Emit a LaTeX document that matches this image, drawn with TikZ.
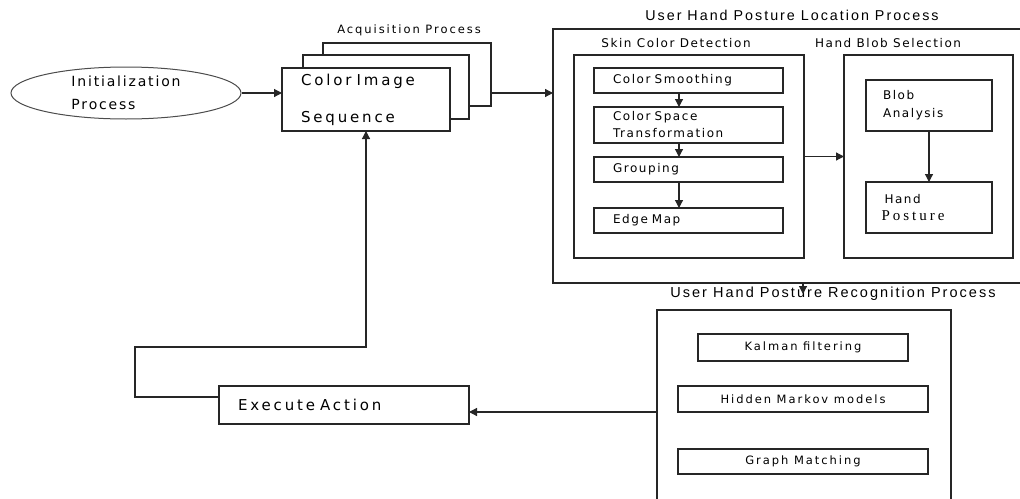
\documentclass[tikz,border=0pt]{standalone}
\usepackage{fontspec}
\usepackage{tikz}
\usetikzlibrary{positioning,shapes.geometric,arrows.meta}
\setmainfont{DejaVu Sans}
\newfontfamily\initfont[LetterSpace=13]{DejaVu Sans}
\newfontfamily\bigfont[LetterSpace=19]{DejaVu Sans}
\newfontfamily\midfont[LetterSpace=13]{DejaVu Sans}
\newfontfamily\smallfont[LetterSpace=17]{DejaVu Sans}
\newfontfamily\titlefont[LetterSpace=14]{Liberation Sans}
\newfontfamily\postfont[LetterSpace=20]{Liberation Serif}

\begin{document}
\begin{tikzpicture}[x=1pt, y=-1pt, >={Triangle[length=8pt,width=8pt]}]
  \tikzset{block/.style={rectangle, draw=black!85, line width=1.2pt, fill=white, inner sep=0pt, outer sep=0pt},
    stepbox/.style={block, minimum width=189pt, text width=151pt, inner xsep=19pt, align=left, font=\fontsize{12}{17}\midfont},
    algbox/.style={block, minimum width=250pt, minimum height=26pt, align=center, font=\fontsize{11.5}{13}\smallfont},
    lbl/.style={inner sep=0pt, font=\fontsize{12}{14}\midfont},
    line/.style={draw=black!85, line width=1.2pt}}
  \useasboundingbox (0,0) rectangle (1020,498);
  \clip (0,0) rectangle (1020,498);
  % acquisition
  \node[ellipse, draw=black!70, line width=1pt, minimum width=230pt, minimum height=52pt, inner sep=0pt, align=left, font=\fontsize{14}{17}\initfont] (init) at (126,93) {Initialization\\[6pt]Process};
  \node[block, minimum width=168pt, minimum height=63pt] (acqback) at (407,74.5) {};
  \node[block, minimum width=166pt, minimum height=64pt] (acqmid) at (386,87) {};
  \node[block, minimum width=168pt, minimum height=63pt, text width=130pt, inner xsep=19pt, align=left, font=\fontsize{15}{18}\bigfont] (acq) at (366,99.5) {Color Image\\[19pt]Sequence};
  \node[inner sep=0pt, font=\fontsize{11.5}{13}\smallfont] (acqlbl) at (409,30) {Acquisition Process};
  % location
  \node[block, minimum width=472pt, minimum height=254pt] (loc) at (789,156) {};
  \node[inner sep=0pt, font=\fontsize{14.3}{16}\titlefont] (loctitle) at (792,15) {User Hand Posture Location Process};
  \node[block, minimum width=230pt, minimum height=203pt] (skin) at (689,156.5) {};
  \node[lbl] (skinlbl) at (676,43) {Skin Color Detection};
  \node[stepbox, minimum height=25pt] (smooth) at (688.5,80.5) {Color Smoothing};
  \node[stepbox, minimum height=36pt] (space) at (688.5,125) {Color Space\\Transformation};
  \node[stepbox, minimum height=25pt] (group) at (688.5,169.5) {Grouping};
  \node[stepbox, minimum height=25pt] (edge) at (688.5,220.5) {Edge Map};
  \node[block, minimum width=169pt, minimum height=203pt] (blob) at (928.5,156.5) {};
  \node[lbl] (bloblbl) at (888,43) {Hand Blob Selection};
  \node[block, minimum width=126pt, minimum height=51pt, text width=92pt, inner xsep=17pt, align=left, font=\fontsize{12}{18}\midfont] (ba) at (929,105.5) {Blob\\Analysis};
  \node[block, minimum width=126pt, minimum height=51pt, text width=95pt, inner xsep=14pt, align=left, font=\fontsize{12}{17}\midfont] (hp) at (929,207.5) {\hspace{3pt}Hand\\{\fontsize{15}{17}\postfont Posture}};
  % recognition
  \node[block, minimum width=294pt, minimum height=200pt] (recog) at (804,410) {};
  \node[inner sep=0pt, font=\fontsize{14.5}{16}\titlefont] (rectitle) at (833,294) {User Hand Posture Recognition Process};
  \node[algbox, minimum width=210pt, minimum height=27pt] (kalman) at (803,347.5) {Kalman filtering};
  \node[algbox] (hmm) at (803,399) {Hidden Markov models};
  \node[algbox, minimum height=25pt] (graph) at (803,461.5) {Graph Matching};
  \node[block, minimum width=250pt, minimum height=38pt, text width=212pt, inner xsep=19pt, align=left, font=\fontsize{15}{18}\bigfont] (ea) at (344,405) {Execute Action};
  \coordinate (rectip) at (803,294);
  \coordinate (fb) at (135,347);
  % connectors
  \draw[->, line] (init.east) -- (init.east -| acq.west);
  \draw[->, line] (init.east -| acqback.east) -- (init.east -| loc.west);
  \draw[->, line] ([xshift=-9.5pt]smooth.south) -- ([xshift=-9.5pt]space.north);
  \draw[->, line] ([xshift=-9.5pt]space.south) -- ([xshift=-9.5pt]group.north);
  \draw[->, line] ([xshift=-9.5pt]group.south) -- ([xshift=-9.5pt]edge.north);
  \draw[->, line] (skin) -- (blob);
  \draw[->, line] (ba) -- (hp);
  \draw[->, line] (loc.south -| rectip) -- (rectip);
  \draw[->, line] ([yshift=-7pt]ea.east -| recog.west) -- ([yshift=-7pt]ea.east);
  \draw[->, line] ([yshift=8pt]ea.west) -| (fb) -| (acq.south);
\end{tikzpicture}
\end{document}
